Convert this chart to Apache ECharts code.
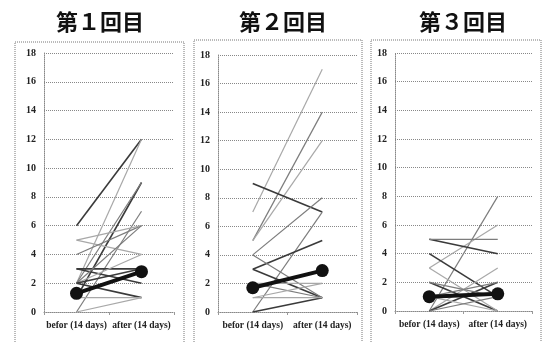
<!DOCTYPE html>
<html>
<head>
<meta charset="utf-8">
<script src="https://cdn.jsdelivr.net/npm/echarts@6/dist/echarts.min.js"></script>
<style>
  html, body { margin: 0; padding: 0; background: #fff; }
  #chart { width: 548px; height: 342px; }
</style>
</head>
<body>
<div id="chart"></div>
<script>
// Category labels on each x axis
const categories = ['befor (14 days)', 'after (14 days)'];
// Panel titles
const titles = ['第１回目', '第２回目', '第３回目'];

// Round 1: individual scores before / after, plus tone of each line
const r1Before = [6, 2, 1, 2, 0, 5, 4, 5, 3, 3, 2, 0, 2, 2, 2, 1];
const r1After  = [12, 12, 9, 9, 7, 4, 6, 6, 3, 2, 1, 1, 4, 6, 3, 1];
const r1Tone   = ['d', 'l', 'd', 'm', 'm', 'l', 'm', 'l', 'd', 'd', 'd', 'l', 'l', 'm', 'd', 'l'];
const r1Mean   = [1.3, 2.8];

// Round 2
const r2Before = [7, 5, 5, 9, 4, 0, 3, 3, 4, 0, 2, 1, 1, 2];
const r2After  = [17, 14, 12, 7, 8, 7, 5, 1, 1, 1, 1, 1, 2, 2];
const r2Tone   = ['l', 'm', 'l', 'd', 'm', 'm', 'd', 'd', 'm', 'd', 'm', 'l', 'l', 'l'];
const r2Mean   = [1.7, 2.9];

// Round 3
const r3Before = [0, 3, 5, 5, 4, 0, 2, 0, 1, 3, 1, 0, 2];
const r3After  = [8, 6, 4, 5, 1, 3, 0, 2, 2, 0, 0, 1, 1];
const r3Tone   = ['m', 'l', 'd', 'm', 'd', 'l', 'd', 'd', 'm', 'l', 'l', 'm', 'm'];
const r3Mean   = [1.0, 1.2];

// Y axis range
const yMin = 0, yMax = 18, yStep = 2;

const panels = [
  { before: r1Before, after: r1After, tone: r1Tone, mean: r1Mean },
  { before: r2Before, after: r2After, tone: r2Tone, mean: r2Mean },
  { before: r3Before, after: r3After, tone: r3Tone, mean: r3Mean }
];

const toneStyle = {
  d: { color: '#3a3a3a', width: 1.6 },
  m: { color: '#7c7c7c', width: 1.2 },
  l: { color: '#a8a8a8', width: 1.2 }
};

const gridBoxes = [
  { left: 44, width: 130, top: 53, height: 259 },
  { left: 218, width: 139, top: 55, height: 257 },
  { left: 395, width: 137, top: 53, height: 258 }
];
const frames = [
  { x: 15, y: 42, w: 169, h: 310 },
  { x: 194, y: 40, w: 168, h: 310 },
  { x: 371, y: 40, w: 170, h: 310 }
];
const titleCenters = [100, 283, 463];

const labelFont = { fontFamily: 'Liberation Serif', fontWeight: 'bold', color: '#222' };

const grid = [], xAxis = [], yAxis = [], series = [], graphic = [];

panels.forEach((p, i) => {
  grid.push(Object.assign({ containLabel: false }, gridBoxes[i]));
  xAxis.push({
    type: 'category', gridIndex: i, data: categories, boundaryGap: true,
    axisLine: { lineStyle: { color: '#888', type: [1, 1], width: 1 } },
    axisTick: { show: true, length: 3, lineStyle: { color: '#999' } },
    axisLabel: Object.assign({ margin: 9, interval: 0, fontSize: 9.5 }, labelFont)
  });
  yAxis.push({
    type: 'value', gridIndex: i, min: yMin, max: yMax, interval: yStep,
    axisLine: { show: true, lineStyle: { color: '#888', type: [1, 1], width: 1 } },
    axisTick: { show: false },
    axisLabel: Object.assign({ margin: 8, fontSize: 10 }, labelFont),
    splitLine: { show: true, lineStyle: { color: '#888', type: [1, 1], width: 1 } }
  });
  p.before.forEach((b, k) => {
    const st = toneStyle[p.tone[k]];
    series.push({
      type: 'line', xAxisIndex: i, yAxisIndex: i,
      data: [b, p.after[k]],
      symbol: 'none', silent: true, animation: false,
      lineStyle: { color: st.color, width: st.width }
    });
  });
  series.push({
    type: 'line', xAxisIndex: i, yAxisIndex: i,
    data: p.mean, symbol: 'circle', symbolSize: 13,
    itemStyle: { color: '#111' }, z: 5, animation: false,
    lineStyle: { color: '#111', width: 4 }
  });
  const f = frames[i];
  graphic.push({
    type: 'rect', shape: { x: f.x, y: f.y, width: f.w, height: f.h },
    style: { fill: 'none', stroke: '#777', lineWidth: 1, lineDash: [1, 1] }, silent: true
  });
  graphic.push({
    type: 'text', x: titleCenters[i], y: 22,
    style: {
      text: titles[i], textAlign: 'center', textVerticalAlign: 'middle',
      fontFamily: 'Noto Sans CJK JP', fontWeight: 'bold', fontSize: 22, fill: '#111'
    }
  });
});

const chart = echarts.init(document.getElementById('chart'), null, { renderer: 'canvas' });
chart.setOption({
  animation: false,
  grid, xAxis, yAxis, series, graphic
});
</script>
</body>
</html>
